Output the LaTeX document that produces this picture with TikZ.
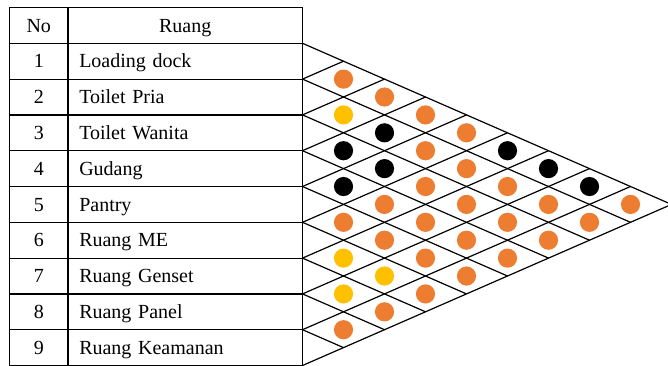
\documentclass[tikz,border=0pt]{standalone}
\usepackage{fontspec}
\setmainfont{Liberation Serif}
\usetikzlibrary{calc}

\definecolor{bubbleOrange}{HTML}{ED7D31}
\definecolor{bubbleYellow}{HTML}{FFC000}

\tikzstyle{noCell}    = [rectangle,
                         minimum width=29.25pt,
                         minimum height=17.9pt,
                         text height=8.2pt,
                         text depth=1.6pt,
                         inner sep=0pt,
                         text centered,
                         draw=black,
                         line width=0.6pt]
\tikzstyle{roomCell}  = [rectangle,
                         minimum width=117.25pt,
                         minimum height=17.9pt,
                         text width=106pt,
                         text height=8.2pt,
                         text depth=1.6pt,
                         inner xsep=5.6pt,
                         inner ysep=0pt,
                         align=left,
                         draw=black,
                         line width=0.6pt]
\tikzstyle{headCell}  = [roomCell, align=center]
\tikzstyle{gridLine}  = [line width=0.6pt]
\tikzstyle{bubble}    = [circle, 
                         minimum size=9.6pt, 
                         inner sep=0pt]

\begin{document}
\begin{tikzpicture}[x=0.5pt, y=-0.5pt]
\useasboundingbox (0,0) rectangle (668,365);

\node [noCell] (hNo)          at (38.75,25.4) {No};
\node [headCell] (hRuang)     at ([shift={(146.5,0)}] hNo) {Ruang};

\foreach \k/\room in {1/Loading dock, 2/Toilet Pria, 3/Toilet Wanita,
                      4/Gudang, 5/Pantry, 6/Ruang ME, 7/Ruang Genset,
                      8/Ruang Panel, 9/Ruang Keamanan} {
    \node [noCell] (no\k)     at ([shift={(0,\k*35.8)}] hNo) {\k};
    \node [roomCell] (room\k) at ([shift={(146.5,0)}] no\k) {\room};
}

% row borders on the right edge of the table
\foreach \k in {0,...,9}
    \coordinate (b\k) at (302.5,{43.3+\k*35.8});

\draw [line width=0.9pt] (b0) -- (b9);

\foreach \k in {0,...,9} {
    \draw [gridLine] (b\k) -- ++({(9-\k)*41},{(9-\k)*17.9});
    \draw [gridLine] (b\k) -- ++({\k*41},{-\k*17.9});
}

\foreach \i/\j/\c in {1/2/bubbleOrange, 2/3/bubbleYellow, 3/4/black,
                      4/5/black, 5/6/bubbleOrange, 6/7/bubbleYellow,
                      7/8/bubbleYellow, 8/9/bubbleOrange,
                      1/3/bubbleOrange, 2/4/black, 3/5/black,
                      4/6/bubbleOrange, 5/7/bubbleOrange, 6/8/bubbleYellow,
                      7/9/bubbleOrange,
                      1/4/bubbleOrange, 2/5/bubbleOrange, 3/6/bubbleOrange,
                      4/7/bubbleOrange, 5/8/bubbleOrange, 6/9/bubbleOrange,
                      1/5/bubbleOrange, 2/6/bubbleOrange, 3/7/bubbleOrange,
                      4/8/bubbleOrange, 5/9/bubbleOrange,
                      1/6/black, 2/7/bubbleOrange, 3/8/bubbleOrange,
                      4/9/bubbleOrange,
                      1/7/black, 2/8/bubbleOrange, 3/9/bubbleOrange,
                      1/8/black, 2/9/bubbleOrange,
                      1/9/bubbleOrange}
    \node [bubble, fill=\c] (p\i\j) at ($(b0)+({(\j-\i)*41},{(\i+\j-1)*17.9})$) {};

\end{tikzpicture}
\end{document}
